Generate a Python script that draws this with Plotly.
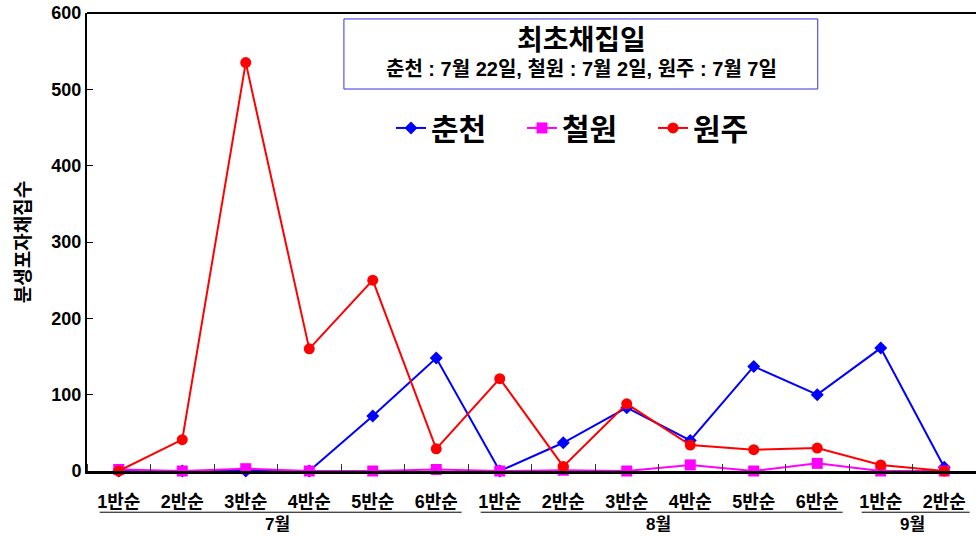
import plotly.graph_objects as go

# 반순 labels grouped by month
months = ["7월", "8월", "9월"]
periods = [
    ["1반순", "2반순", "3반순", "4반순", "5반순", "6반순"],
    ["1반순", "2반순", "3반순", "4반순", "5반순", "6반순"],
    ["1반순", "2반순"],
]
tick_labels = [p for grp in periods for p in grp]

chuncheon = [0, 0, 0, 0, 72, 148, 0, 37, 83, 40, 137, 100, 161, 5]
cheorwon = [2, 0, 3, 0, 0, 2, 0, 1, 0, 8, 0, 10, 0, 0]
wonju = [0, 41, 535, 160, 250, 29, 121, 6, 88, 34, 28, 30, 8, 0]

first_date_title = "최초채집일"
first_date_text = "춘천 : 7월 22일, 철원 : 7월 2일, 원주 : 7월 7일"

FONT = "Liberation Sans, Arial, Noto Sans CJK KR, sans-serif"
x = list(range(len(tick_labels)))

fig = go.Figure()
fig.add_trace(go.Scatter(
    x=x, y=chuncheon, name="춘천", mode="lines+markers",
    line=dict(color="#0000ff", width=2),
    marker=dict(symbol="diamond", size=10, color="#0000ff"),
    cliponaxis=False,
))
fig.add_trace(go.Scatter(
    x=x, y=cheorwon, name="철원", mode="lines+markers",
    line=dict(color="#ff00ff", width=2),
    marker=dict(symbol="square", size=11, color="#ff00ff"),
    cliponaxis=False,
))
fig.add_trace(go.Scatter(
    x=x, y=wonju, name="원주", mode="lines+markers",
    line=dict(color="#ff0000", width=2),
    marker=dict(symbol="circle", size=11, color="#ff0000"),
    cliponaxis=False,
))

# month group labels with underline
shapes = []
annotations = []
start = 0
for m, grp in zip(months, periods):
    end = start + len(grp) - 1
    shapes.append(dict(
        type="line", xref="x", yref="paper",
        x0=start - 0.3, x1=end + 0.4, y0=-0.09, y1=-0.09,
        line=dict(color="black", width=1),
    ))
    annotations.append(dict(
        x=(start + end) / 2, y=-0.117, xref="x", yref="paper",
        text=m, showarrow=False, yanchor="middle",
        font=dict(family=FONT, size=17, color="black", weight="bold"),
    ))
    start = end + 1

# first-collection box
shapes.append(dict(
    type="rect", xref="paper", yref="paper",
    x0=0.289, x1=0.822, y0=0.834, y1=0.987,
    line=dict(color="#3333dd", width=1), fillcolor="white",
))
annotations.append(dict(
    x=0.556, y=0.941, xref="paper", yref="paper", text=first_date_title,
    showarrow=False, yanchor="middle",
    font=dict(family=FONT, size=28, color="black", weight="bold"),
))
annotations.append(dict(
    x=0.556, y=0.878, xref="paper", yref="paper", text=first_date_text,
    showarrow=False, yanchor="middle",
    font=dict(family=FONT, size=20, color="black", weight="bold"),
))

fig.update_layout(
    width=976, height=537,
    margin=dict(l=87, r=0, t=13, b=66),
    paper_bgcolor="white", plot_bgcolor="white",
    font=dict(family=FONT, color="black"),
    showlegend=True,
    legend=dict(
        orientation="h", x=0.563, y=0.749, xanchor="center", yanchor="middle",
        font=dict(family=FONT, size=30, color="black", weight="bold"),
        itemwidth=30, entrywidth=86, bgcolor="rgba(0,0,0,0)",
    ),
    shapes=shapes,
    annotations=annotations,
    xaxis=dict(
        range=[-0.5, len(tick_labels) - 0.5],
        tickmode="array", tickvals=x, ticktext=tick_labels,
        ticks="", ticklabelstandoff=12,
        tickfont=dict(family=FONT, size=18, color="black", weight="bold"),
        minor=dict(tickmode="linear", tick0=0.5, dtick=1, ticks="inside",
                   ticklen=7, tickcolor="#333", tickwidth=1),
        showline=True, linecolor="black", linewidth=3, mirror=False,
        showgrid=False, zeroline=False, automargin=False,
    ),
    yaxis=dict(
        range=[0, 600], tickmode="linear", tick0=0, dtick=100,
        ticks="inside", ticklen=6, tickcolor="black", tickwidth=1,
        tickfont=dict(family=FONT, size=18, color="black", weight="bold"),
        showline=True, linecolor="black", linewidth=2,
        showgrid=False, zeroline=False, automargin=False,
        title=dict(text="분생포자채집수", standoff=16,
                   font=dict(family=FONT, size=19, color="black", weight="bold")),
    ),
)
# top frame line
fig.add_shape(type="line", xref="paper", yref="paper", x0=0, x1=1, y0=1, y1=1,
              line=dict(color="black", width=2))

fig.write_html("out.html", config={"displayModeBar": False},
               post_script="document.body.style.margin='0';")
